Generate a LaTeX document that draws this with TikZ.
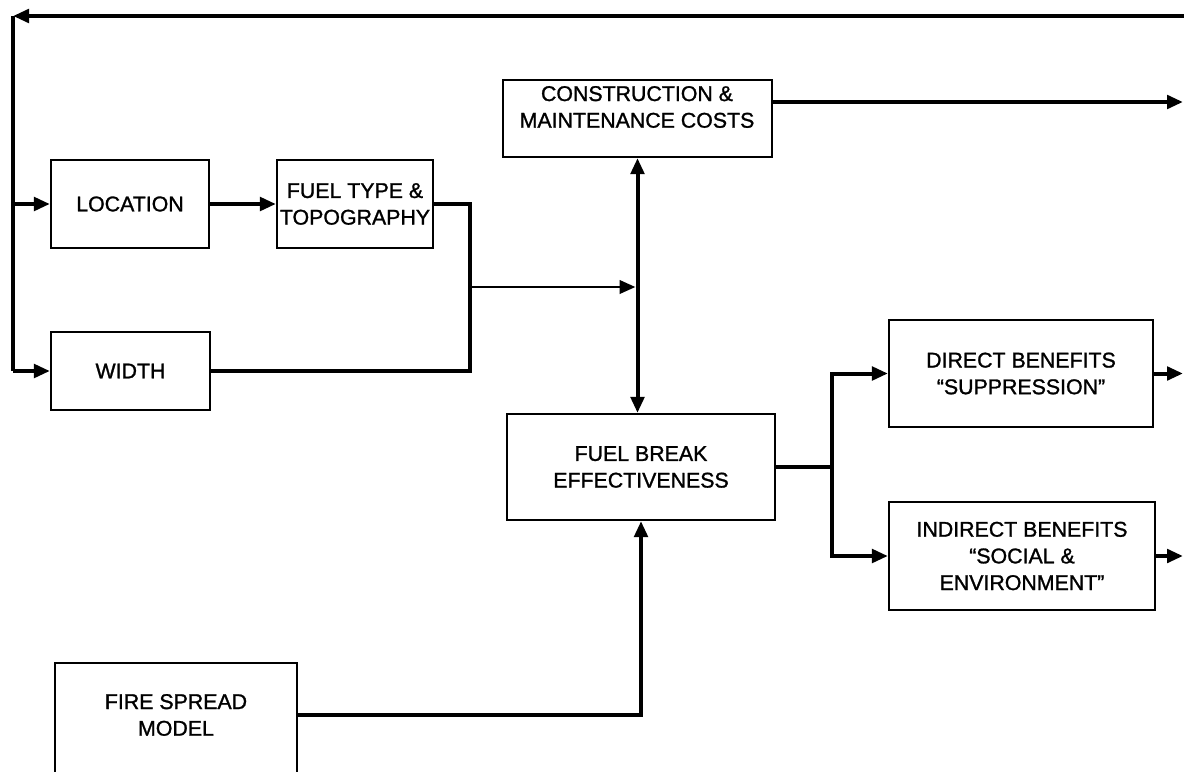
\documentclass[tikz,border=0pt]{standalone}
\usepackage{fontspec}
\setmainfont{Liberation Sans}
\newfontfamily\dfont[FakeBold=1.2,Ligatures=TeX]{Liberation Sans}
\usetikzlibrary{arrows.meta}

\tikzset{
  x=0.75pt, y=-0.75pt,
  lbl/.style={inner sep=0pt, align=center,
    font=\dfont\fontsize{16}{20}\selectfont},
  box/.style={lbl, draw, line width=1.6pt},
  wire/.style={line width=3pt, line join=miter},
  tip/.tip={Triangle[length=12pt,width=10pt]},
  arr/.style={wire, -tip},
  darr/.style={wire, tip-tip},
}

\begin{document}
\begin{tikzpicture}
  \clip (0,0) rectangle (1184,771);
  \fill[white] (0,0) rectangle (1184,771);

  % blocks
  \node[box, minimum width=118.5pt, minimum height=66pt] (loc) at (130,204) {LOCATION};
  \node[box, minimum width=117pt, minimum height=66pt] (fuel) at (355,204) {FUEL TYPE \&\\TOPOGRAPHY};
  \node[box, minimum width=119.25pt, minimum height=58.5pt] (wid) at (130.5,371) {WIDTH};
  \node[box, minimum width=201.75pt, minimum height=57.75pt] (cmc) at (637.5,118.5) {};
  \node[lbl] (cmclbl) at (637,107) {CONSTRUCTION \&\\MAINTENANCE COSTS};
  \node[box, minimum width=201pt, minimum height=79.5pt] (fbe) at (641,467) {FUEL BREAK\\EFFECTIVENESS};
  \node[box, minimum width=198pt, minimum height=80.25pt] (dir) at (1021,373.5) {DIRECT BENEFITS\\“SUPPRESSION”};
  \node[box, minimum width=199.5pt, minimum height=81pt] (ind) at (1022,556) {INDIRECT BENEFITS\\“SOCIAL \&\\ENVIRONMENT”};
  \node[box, minimum width=181.5pt, minimum height=102.75pt] (fs) at (176,731.5) {};
  \node[lbl] (fslbl) at (176,715) {FIRE SPREAD\\MODEL};

  % junction points and free ends
  \coordinate (fbL) at (13,16);
  \coordinate (fbR) at (1184,16);
  \coordinate (jn) at (470,287);
  \coordinate (bx) at (832,467);
  \coordinate (cEnd) at (1183,102);
  \coordinate (rEdge) at (1183,0);

  % feedback loop along the top and down the left side
  \draw[arr, line width=3.2pt] (fbR) -- (fbL);
  \draw[wire] (fbL) -- (fbL |- wid.west);
  \draw[arr] (fbL |- loc.west) -- (loc.west);
  \draw[arr] (fbL |- wid.west) -- (wid.west);

  % inputs to effectiveness
  \draw[arr] (loc.east) -- (fuel.west);
  \draw[wire] (fuel.east) -| (jn) |- (wid.east);
  \draw[arr, line width=2.2pt] (jn) -- ([xshift=-1.5pt]cmc.south |- jn);
  \draw[darr] (cmc.south) -- (cmc.south |- fbe.north);
  \draw[arr] (fslbl -| fs.east) -| (fbe.south);

  % outputs
  \draw[arr] (cmc.east |- cEnd) -- (cEnd);
  \draw[wire] (fbe.east) -- (bx);
  \draw[arr] (bx) |- (dir.west);
  \draw[arr] (bx) |- (ind.west);
  \draw[arr] (dir.east) -- (dir.east -| rEdge);
  \draw[arr] (ind.east) -- (ind.east -| rEdge);
\end{tikzpicture}
\end{document}
